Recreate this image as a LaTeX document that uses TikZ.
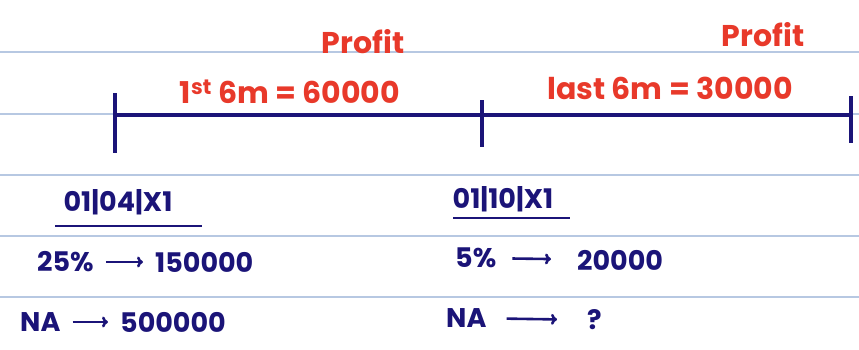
\documentclass[tikz,border=0pt]{standalone}
\usepackage{fontspec}
\setmainfont{Poppins}
\usepackage{tikz}
\usetikzlibrary{positioning,arrows.meta}
\definecolor{cInk}{HTML}{1B1478}
\definecolor{cRed}{HTML}{E8392A}
\definecolor{cRule}{HTML}{B7C8E2}
\tikzset{
  rule/.style={cRule, line width=1.2pt},
  tline/.style={cInk, line width=3.4pt},
  tick/.style={cInk, line width=3.2pt},
  note/.style={text=cInk, inner sep=0pt, font=\fontsize{27}{30}\selectfont\bfseries},
  prof/.style={text=cRed, inner sep=0pt, font=\fontsize{30}{34}\selectfont\bfseries},
  ar/.style={-{To[length=6pt,width=11pt]}, cInk, line width=2.6pt}
}
\begin{document}
\begin{tikzpicture}[x=1pt,y=-1pt]
\useasboundingbox (0,0) rectangle (859,349);
% ruled paper
\foreach \y in {52,114,175,236,297} \draw[rule] (0,\y) -- (859,\y);
% time line
\coordinate (t0) at (115,115);
\coordinate (t1) at (482,115);
\coordinate (t2) at (851,115);
\draw[tline] (t0) -- (t2);
\draw[tick] (115,93) -- (115,153);
\draw[tick] (482,100) -- (482,147);
\draw[tick] (851,96) -- (851,143);
% profits
\node[prof] (p1) at (290,92) {1\textsuperscript{st} 6m = 60000};
\node[prof] (p1t) at (363,42) {Profit};
\node[prof] (p2) at (670,88) {last 6m = 30000};
\node[prof] (p2t) at (763,35) {Profit};
% dates
\node[note] (d1) at (118,202) {01|04|X1};
\draw[tick, line width=2.6pt] (55,226) -- (202,226);
\node[note] (d2) at (503,199) {01|10|X1};
\draw[tick, line width=2.6pt] (453,218) -- (570,218);
% shares
\node[note, anchor=west] (s1) at (37,262) {25\%};
\node[note, anchor=west] (v1) at (155,262) {150000};
\node[note, anchor=west] (n1) at (20,322) {NA};
\node[note, anchor=west] (w1) at (120,322) {500000};
\node[note, anchor=west] (s2) at (455,258) {5\%};
\node[note, anchor=west] (v2) at (577,260) {20000};
\node[note, anchor=west] (n2) at (446,318) {NA};
\node[note, anchor=west] (w2) at (587,320) {?};
\draw[ar, shorten <=12pt, shorten >=12pt] (s1) -- (v1);
\draw[ar, shorten <=12pt, shorten >=12pt] (n1) -- (w1);
\draw[ar, shorten <=16pt, shorten >=26pt] (s2) -- (v2);
\draw[ar, shorten <=20pt, shorten >=30pt] (n2) -- (w2);
\end{tikzpicture}
\end{document}
